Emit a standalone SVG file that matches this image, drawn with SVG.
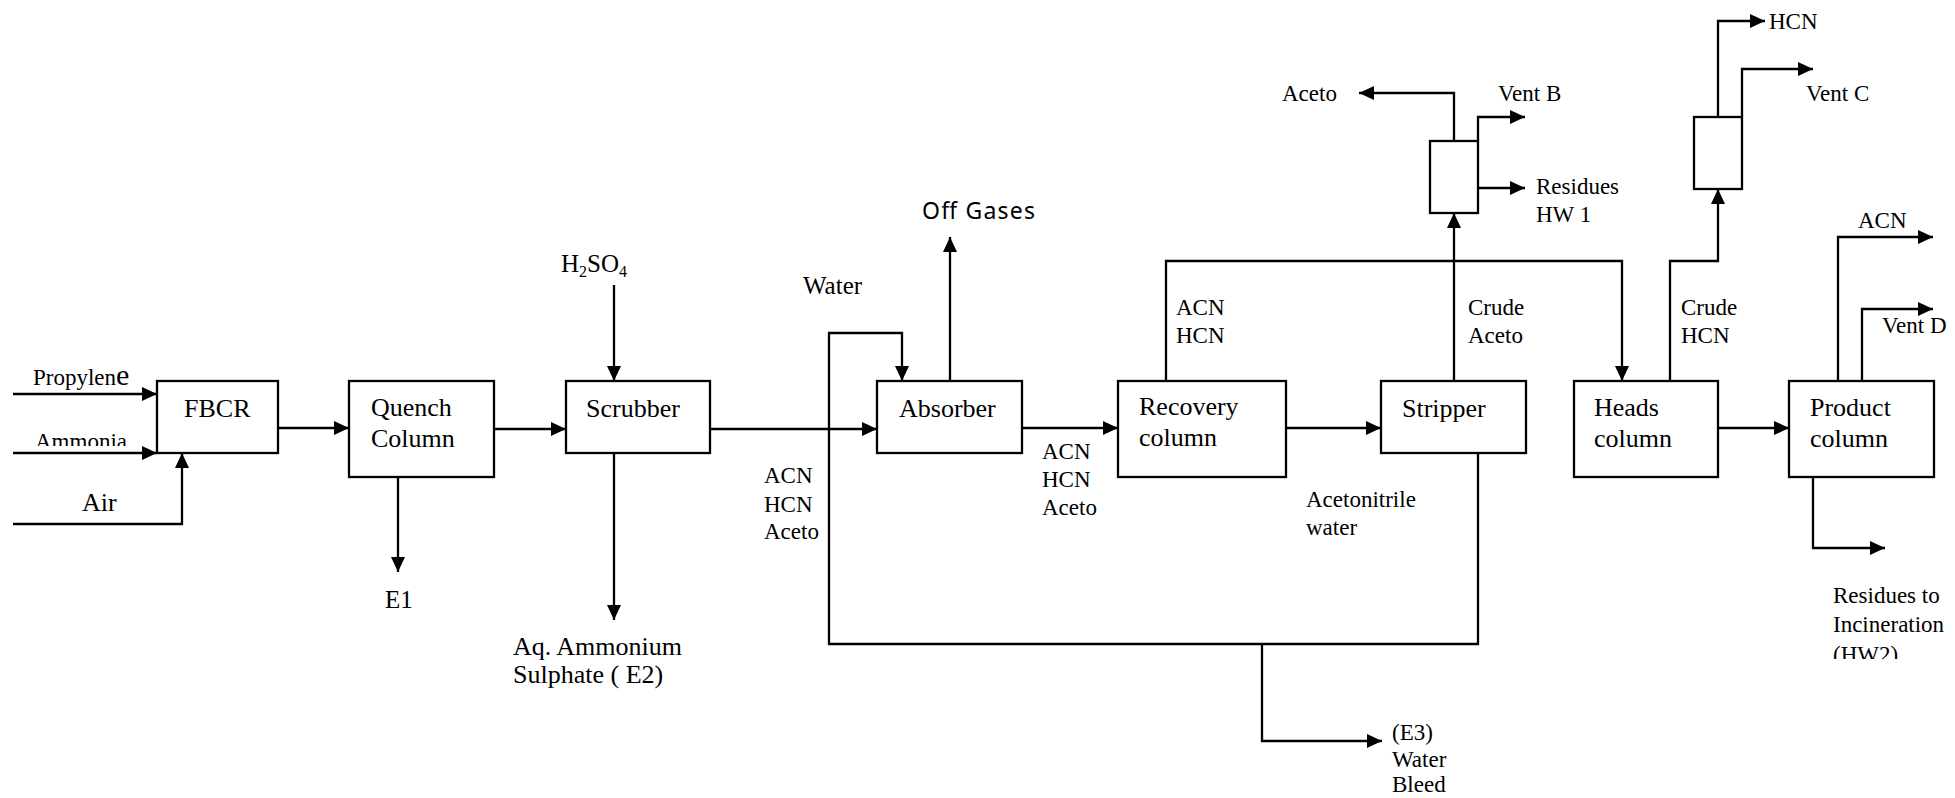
<svg xmlns="http://www.w3.org/2000/svg" width="1955" height="798" viewBox="0 0 1955 798">
<style>
.box{fill:#fff;stroke:#000;stroke-width:2.3}
.c{fill:none;stroke:#000;stroke-width:2.3;marker-end:url(#ah)}
.cn{fill:none;stroke:#000;stroke-width:2.3}
text{font-family:"Liberation Serif","Times New Roman",serif;fill:#000}
.n{font-size:26px}
.l{font-size:23px}
.m{font-size:25px}
.sans{font-family:"Noto Sans","DejaVu Sans",sans-serif;font-size:23px}
</style>
<defs>
<marker id="ah" markerUnits="userSpaceOnUse" markerWidth="16" markerHeight="15" refX="15" refY="7" orient="auto">
<path d="M0,0 L15,7 L0,14 z" fill="#000"/>
</marker>
<clipPath id="clipAmm"><rect x="0" y="420" width="200" height="26"/></clipPath>
<clipPath id="clipHW2"><rect x="1820" y="580" width="135" height="79"/></clipPath>
</defs>
<rect width="1955" height="798" fill="#fff"/>

<g id="connectors">
<path class="c" d="M13,394 H157"/>
<path class="c" d="M13,453 H157"/>
<path class="c" d="M13,524 H182 V453"/>
<path class="c" d="M278,428 H349"/>
<path class="c" d="M398,477 V572"/>
<path class="c" d="M494,429 H566"/>
<path class="c" d="M614,285 V381"/>
<path class="c" d="M614,453 V620"/>
<path class="c" d="M710,429 H877"/>
<path class="c" d="M950,381 V237"/>
<path class="c" d="M1478,453 V644 H829 V333 H902 V381"/>
<path class="c" d="M1262,644 V741 H1382"/>
<path class="c" d="M1022,428 H1118"/>
<path class="c" d="M1286,428 H1381"/>
<path class="c" d="M1166,381 V261 H1622 V381"/>
<path class="c" d="M1454,381 V213"/>
<path class="c" d="M1454,141 V93 H1359"/>
<path class="c" d="M1478,141 V117 H1525"/>
<path class="c" d="M1478,188 H1525"/>
<path class="c" d="M1718,428 H1789"/>
<path class="c" d="M1670,381 V261 H1718 V189"/>
<path class="c" d="M1718,117 V21 H1765"/>
<path class="c" d="M1742,117 V69 H1813"/>
<path class="c" d="M1838,381 V237 H1933"/>
<path class="c" d="M1862,381 V309 H1933"/>
<path class="c" d="M1813,477 V548 H1885"/>
</g>

<g id="fbcr"><rect class="box" x="157" y="381" width="121" height="72"/><text class="n" x="184" y="417">FBCR</text></g>
<g id="quench"><rect class="box" x="349" y="381" width="145" height="96"/><text class="n" x="371" y="416">Quench</text><text class="n" x="371" y="447">Column</text></g>
<g id="scrubber"><rect class="box" x="566" y="381" width="144" height="72"/><text class="n" x="586" y="417">Scrubber</text></g>
<g id="absorber"><rect class="box" x="877" y="381" width="145" height="72"/><text class="n" x="899" y="417">Absorber</text></g>
<g id="recovery"><rect class="box" x="1118" y="381" width="168" height="96"/><text class="n" x="1139" y="415">Recovery</text><text class="n" x="1139" y="446">column</text></g>
<g id="stripper"><rect class="box" x="1381" y="381" width="145" height="72"/><text class="n" x="1402" y="417">Stripper</text></g>
<g id="vessel-b"><rect class="box" x="1430" y="141" width="48" height="72"/></g>
<g id="heads"><rect class="box" x="1574" y="381" width="144" height="96"/><text class="n" x="1594" y="416">Heads</text><text class="n" x="1594" y="447">column</text></g>
<g id="vessel-c"><rect class="box" x="1694" y="117" width="48" height="72"/></g>
<g id="product"><rect class="box" x="1789" y="381" width="145" height="96"/><text class="n" x="1810" y="416">Product</text><text class="n" x="1810" y="447">column</text></g>

<g id="labels">
<text class="l" x="33" y="385">Propylen<tspan font-size="30">e</tspan></text>
<text class="l" x="35" y="449" clip-path="url(#clipAmm)">Ammonia</text>
<text class="n" x="82" y="511">Air</text>
<text class="m" x="385" y="608">E1</text>
<text class="m" x="561" y="272">H<tspan font-size="16" dy="5">2</tspan><tspan dy="-5">SO</tspan><tspan font-size="16" dy="5">4</tspan></text>
<text class="n" x="513" y="655">Aq. Ammonium</text>
<text class="n" x="513" y="683">Sulphate ( E2)</text>
<text class="m" x="803" y="294">Water</text>
<text class="sans" x="922" y="219" textLength="113">Off Gases</text>
<text class="l" x="764" y="483">ACN</text>
<text class="l" x="764" y="512">HCN</text>
<text class="l" x="764" y="539">Aceto</text>
<text class="l" x="1042" y="459">ACN</text>
<text class="l" x="1042" y="487">HCN</text>
<text class="l" x="1042" y="515">Aceto</text>
<text class="l" x="1176" y="315">ACN</text>
<text class="l" x="1176" y="343">HCN</text>
<text class="l" x="1468" y="315">Crude</text>
<text class="l" x="1468" y="343">Aceto</text>
<text class="l" x="1306" y="507">Acetonitrile</text>
<text class="l" x="1306" y="535">water</text>
<text class="l" x="1282" y="101">Aceto</text>
<text class="l" x="1498" y="101">Vent B</text>
<text class="l" x="1536" y="194">Residues</text>
<text class="l" x="1536" y="222">HW 1</text>
<text class="l" x="1769" y="29">HCN</text>
<text class="l" x="1806" y="101">Vent C</text>
<text class="l" x="1681" y="315">Crude</text>
<text class="l" x="1681" y="343">HCN</text>
<text class="l" x="1858" y="228">ACN</text>
<text class="l" x="1882" y="333">Vent D</text>
<text class="l" x="1833" y="603">Residues to</text>
<text class="l" x="1833" y="632">Incineration</text>
<text class="l" x="1833" y="662" clip-path="url(#clipHW2)">(HW2)</text>
<text class="l" x="1392" y="740">(E3)</text>
<text class="l" x="1392" y="767">Water</text>
<text class="l" x="1392" y="792">Bleed</text>
</g>
</svg>
